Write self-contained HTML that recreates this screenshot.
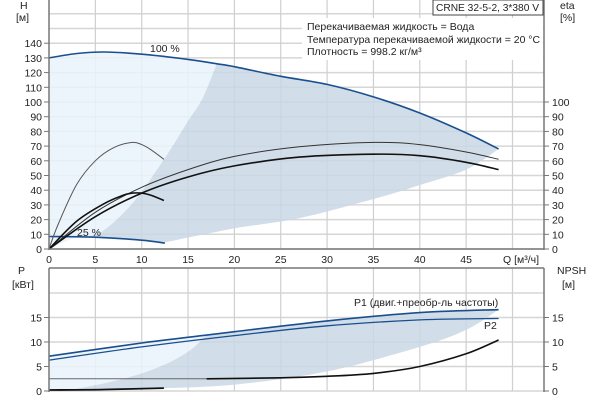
<!DOCTYPE html>
<html><head><meta charset="utf-8"><style>
body{margin:0;background:#fff;font-family:"Liberation Sans",sans-serif}
svg text{font-family:"Liberation Sans","Noto Sans CJK SC",sans-serif;font-size:10.5px;fill:#222}
</style></head><body>
<svg id="c" width="600" height="400" xmlns="http://www.w3.org/2000/svg"></svg>
<script>
const qTicks=[0,5,10,15,20,25,30,35,40,45];
const hTicks=[0,10,20,30,40,50,60,70,80,90,100,110,120,130,140];
const etaTicks=[0,10,20,30,40,50,60,70,80,90,100];
const pTicks=[0,5,10,15];
const head100=[[0,130],[3,133],[6,134],[10,132.5],[15,129],[18.1,126],[20,124],[25,117.5],[30,112],[35,103.5],[40,92.5],[45,79],[48.5,68]];
const head25=[[0,8.5],[5,8],[10,6],[12.5,4]];
const grayLeftH=[[3,8.5],[5.5,11],[9,31],[12.3,60],[14.9,86],[16.6,103],[18.1,126]];
const grayLowH=[[12.5,4.5],[20,14],[27,21],[35,34],[40,43.5],[45,54],[48.5,68]];
const eta100a=[[0,0],[5,25],[10,42],[15,54],[20,63],[27,69.5],[35,72.5],[40,71],[45,66],[48.5,61]];
const eta100b=[[0,0],[5,22],[10,38],[15,49],[20,56.5],[27,62.5],[35,64.5],[40,63.5],[45,59],[48.5,54]];
const eta25a=[[0,0],[1,17],[3,44],[5,60],[7,69],[9,72.5],[10,71],[11,67.5],[12.4,61]];
const eta25b=[[0,0],[3,19],[6,31],[8,36.5],[9,38],[10,38],[11,36.5],[12.4,33]];
const p1=[[0,7.1],[10,9.8],[17,11.4],[20,12.1],[30,14.3],[40,16],[48.5,16.6]];
const p2=[[0,6.3],[10,9],[20,11.3],[30,13.3],[40,14.5],[48.5,14.8]];
const grayLeftP=[[0,0.3],[3,0.5],[8,2.5],[12,5],[15,8],[17,11.4]];
const grayLowP=[[12.5,0.6],[20,1.3],[30,4],[40,9],[45,12.5],[48.5,16.6]];
const npsh=[[17,2.5],[25,2.7],[30,3],[35,3.6],[40,5],[45,7.6],[48.5,10.4]];
const p25=[[0,0.2],[6,0.3],[12.4,0.6]];

const X=q=>49+q*9.27;
const Y=h=>249-h*1.47;
const YP=p=>391-p*4.9;
const svg=document.getElementById('c');const NS='http://www.w3.org/2000/svg';
function add(tag,attrs,name,txt){const e=document.createElementNS(NS,tag);for(const k in attrs)e.setAttribute(k,attrs[k]);


if(txt!==undefined)e.textContent=txt;svg.appendChild(e);return e;}
function cr(a,fy,move){const P=a.map(p=>[X(p[0]),fy(p[1])]);let s=(move?'M':'L')+P[0][0].toFixed(1)+','+P[0][1].toFixed(1);
for(let i=0;i<P.length-1;i++){const p0=P[i-1]||P[i],p1_=P[i],p2_=P[i+1],p3=P[i+2]||p2_;
const c1=[p1_[0]+(p2_[0]-p0[0])/6,p1_[1]+(p2_[1]-p0[1])/6],c2=[p2_[0]-(p3[0]-p1_[0])/6,p2_[1]-(p3[1]-p1_[1])/6];
s+=' C'+c1.map(v=>v.toFixed(1))+' '+c2.map(v=>v.toFixed(1))+' '+p2_.map(v=>v.toFixed(1));}return s;}
const rev=a=>a.slice().reverse();
for(let h=0;h<=160;h+=10)add('line',{x1:49,x2:544,y1:Y(h),y2:Y(h),stroke:'#d6d6d6','stroke-width':1.5},'h-grid');
for(let q=5;q<=50;q+=5)add('line',{x1:X(q),x2:X(q),y1:0,y2:249,stroke:'#cfcfcf','stroke-width':1.2},'q-grid');
const hLeft=head100.filter(p=>p[0]<=18.1);
add('path',{d:cr(hLeft,Y,true)+' '+cr(rev(grayLeftH),Y,false)+' L'+X(0)+','+Y(0)+'Z',fill:'#eaf3fc','fill-opacity':0.85},'light-area');
const hRight=head100.filter(p=>p[0]>=18.1);
add('path',{d:cr(grayLeftH,Y,true)+' '+cr(hRight,Y,false)+' '+cr(rev(grayLowH),Y,false)+' L'+X(5)+','+Y(8)+' L'+X(3)+','+Y(8.5)+'Z',fill:'#c9d7e4','fill-opacity':0.85},'operating-range');
add('path',{d:cr(head100,Y,true),fill:'none',stroke:'#1a4f8f','stroke-width':1.6},'head-100-curve');
add('path',{d:cr(head25,Y,true),fill:'none',stroke:'#1a4f8f','stroke-width':1.6},'head-25-curve');
add('path',{d:cr(eta100a,Y,true),fill:'none',stroke:'#333','stroke-width':1},'eta-curve-upper');
add('path',{d:cr(eta100b,Y,true),fill:'none',stroke:'#111','stroke-width':1.6},'eta-curve-lower');
add('path',{d:cr(eta25a,Y,true),fill:'none',stroke:'#555','stroke-width':1},'eta-25-upper');
add('path',{d:cr(eta25b,Y,true),fill:'none',stroke:'#111','stroke-width':1.6},'eta-25-lower');
add('text',{x:150,y:52},'label-100','100 %');
add('text',{x:77,y:236},'label-25','25 %');
add('line',{x1:49,x2:49,y1:0,y2:250,stroke:'#777','stroke-width':1.5},'left-axis');
add('line',{x1:544,x2:544,y1:0,y2:250,stroke:'#777','stroke-width':1.5},'right-axis');
add('line',{x1:49,x2:544,y1:249,y2:249,stroke:'#777','stroke-width':1.5},'x-axis');
hTicks.forEach(h=>{add('line',{x1:44,x2:49,y1:Y(h),y2:Y(h),stroke:'#777'},'h-tickmark');add('text',{x:42,y:Y(h)+4,'text-anchor':'end'},'h-tick',h);});
etaTicks.forEach(h=>{add('line',{x1:544,x2:549,y1:Y(h),y2:Y(h),stroke:'#777'},'eta-tickmark');add('text',{x:552,y:Y(h)+4},'eta-tick',h);});
qTicks.forEach(q=>add('text',{x:X(q),y:263,'text-anchor':'middle'},'q-tick',q));
add('text',{x:503,y:263},'q-axis-title','Q [м³/ч]');
add('text',{x:20,y:9},'h-axis-title','H');
add('text',{x:16,y:21},'h-axis-unit','[м]');
add('text',{x:560,y:9},'eta-axis-title','eta');
add('text',{x:560,y:21},'eta-axis-unit','[%]');
add('rect',{x:302,y:18,width:241,height:42,fill:'#fff'},'legend-bg');
add('rect',{x:433,y:0,width:110,height:15,fill:'#fff',stroke:'#444'},'title-box');
add('text',{x:436,y:11,textLength:103,lengthAdjust:'spacingAndGlyphs'},'title','CRNE 32-5-2, 3*380 V');
add('text',{x:307,y:30},'info-liquid','Перекачиваемая жидкость = Вода');
add('text',{x:307,y:43,textLength:233,lengthAdjust:'spacingAndGlyphs'},'info-temp','Температура перекачиваемой жидкости = 20 °C');
add('text',{x:307,y:55},'info-density','Плотность = 998.2 кг/м³');
for(let p=0;p<=20;p+=5)add('line',{x1:49,x2:544,y1:YP(p),y2:YP(p),stroke:'#d6d6d6','stroke-width':1.5},'p-grid');
for(let q=5;q<=50;q+=5)add('line',{x1:X(q),x2:X(q),y1:268,y2:391,stroke:'#cfcfcf','stroke-width':1.2},'q-grid-bottom');
const pLeft=p1.filter(p=>p[0]<=17),pRight=p1.filter(p=>p[0]>=17);
add('path',{d:cr(pLeft,YP,true)+' '+cr(rev(grayLeftP),YP,false)+'Z',fill:'#eaf3fc','fill-opacity':0.85},'p-light-area');
add('path',{d:cr(grayLeftP,YP,true)+' '+cr(pRight,YP,false)+' '+cr(rev(grayLowP),YP,false)+'Z',fill:'#c9d7e4','fill-opacity':0.85},'p-operating-range');
add('path',{d:cr(p1,YP,true),fill:'none',stroke:'#1a4f8f','stroke-width':1.6},'p1-curve');
add('path',{d:cr(p2,YP,true),fill:'none',stroke:'#1a4f8f','stroke-width':1.3},'p2-curve');
add('line',{x1:49,x2:X(17),y1:YP(2.5),y2:YP(2.5),stroke:'#666','stroke-width':1},'npsh-thin');
add('path',{d:cr(npsh,YP,true),fill:'none',stroke:'#111','stroke-width':1.6},'npsh-curve');
add('path',{d:cr(p25,YP,true),fill:'none',stroke:'#111','stroke-width':1.8},'p-25-curve');
add('line',{x1:49,x2:49,y1:268,y2:392,stroke:'#777','stroke-width':1.5},'p-left-axis');
add('line',{x1:544,x2:544,y1:268,y2:392,stroke:'#777','stroke-width':1.5},'p-right-axis');
add('line',{x1:49,x2:544,y1:268,y2:268,stroke:'#777','stroke-width':1.5},'p-top-axis');
pTicks.forEach(p=>{add('text',{x:42,y:YP(p)+4,'text-anchor':'end'},'p-tick',p);add('text',{x:552,y:YP(p)+4},'npsh-tick',p);add('line',{x1:544,x2:549,y1:YP(p),y2:YP(p),stroke:'#777'},'npsh-tickmark');add('line',{x1:44,x2:49,y1:YP(p),y2:YP(p),stroke:'#777'},'p-tickmark');});
add('text',{x:18,y:274},'p-axis-title','P');
add('text',{x:12,y:288},'p-axis-unit','[кВт]');
add('text',{x:557,y:274},'npsh-axis-title','NPSH');
add('text',{x:562,y:288},'npsh-axis-unit','[м]');
add('text',{x:354,y:306},'p1-label','P1 (двиг.+преобр-ль частоты)');
add('text',{x:484,y:329},'p2-label','P2');
</script>
</body></html>
